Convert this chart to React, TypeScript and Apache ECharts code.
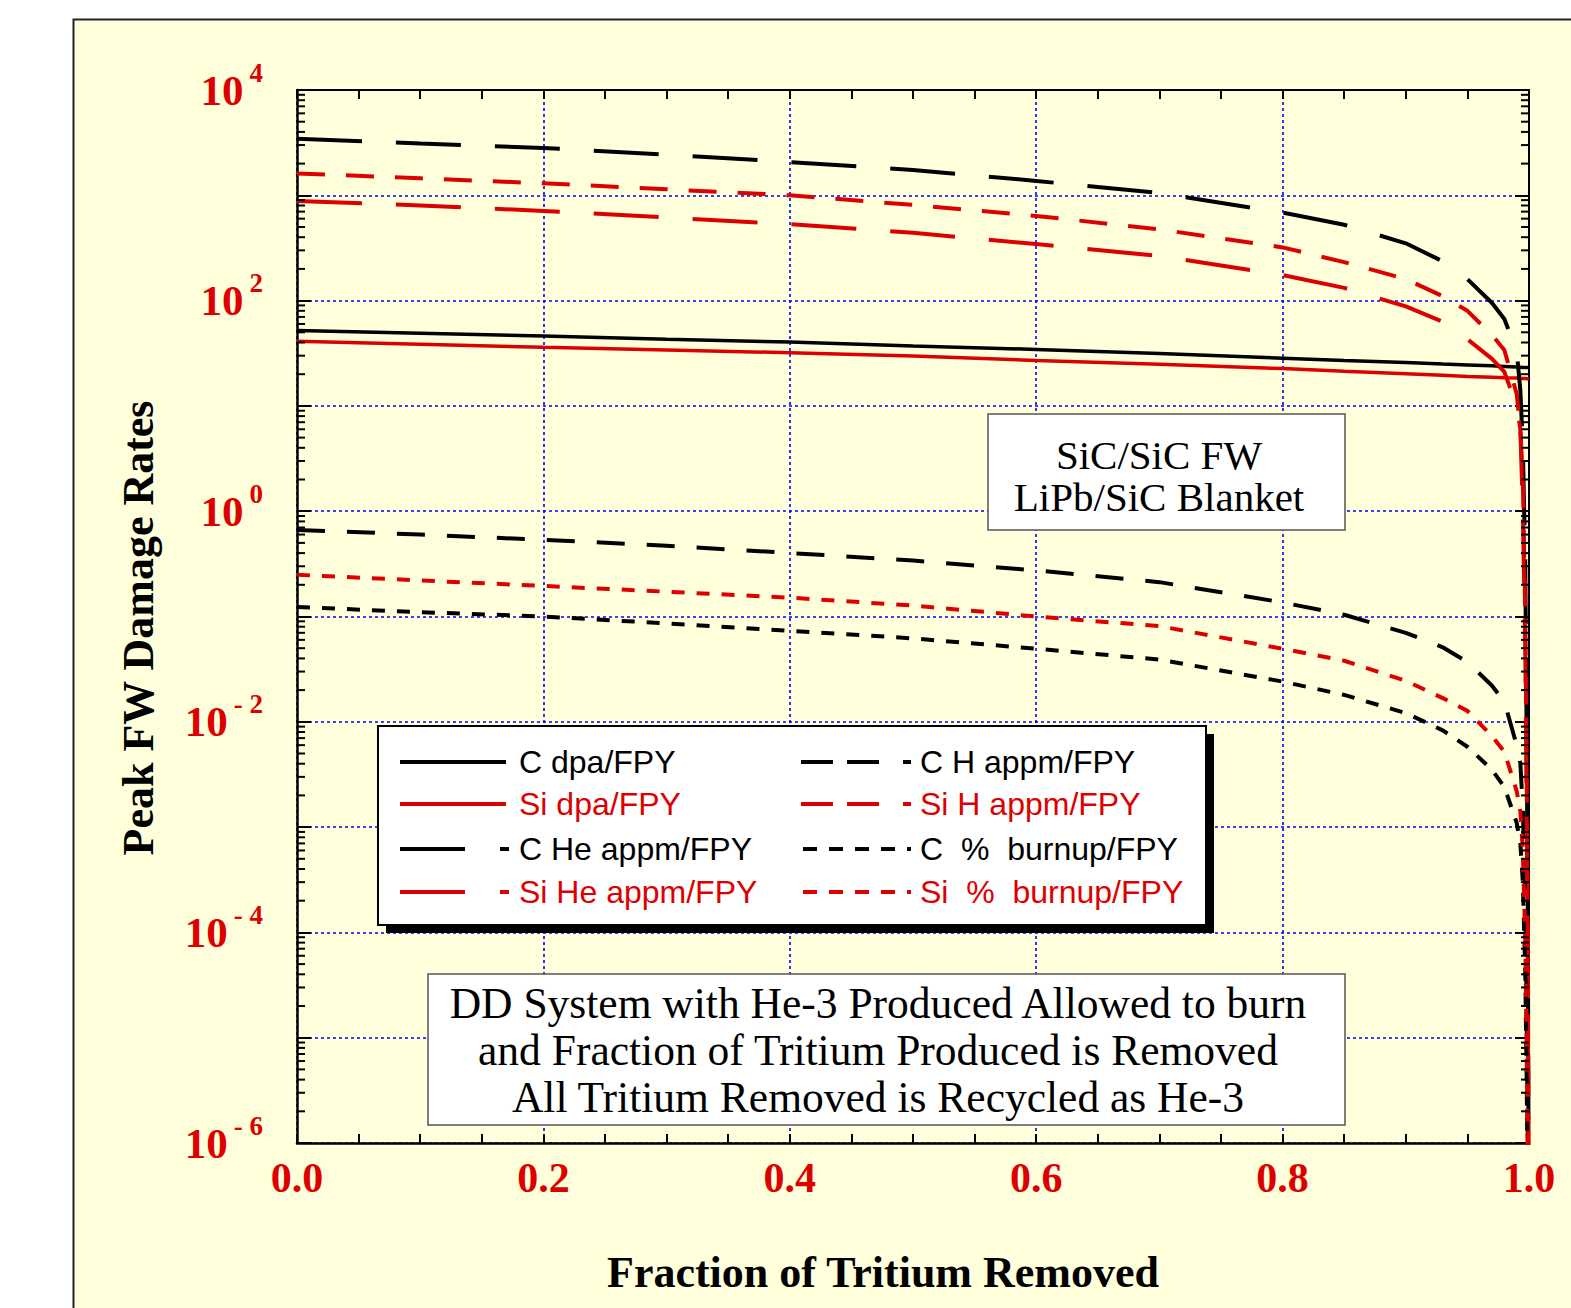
import React, { useEffect, useRef } from 'react';
import * as echarts from 'echarts';

// ---------------- data ----------------
const fractions = [0, 0.1, 0.2, 0.3, 0.4, 0.5, 0.6, 0.7, 0.8, 0.85, 0.9, 0.93, 0.95, 0.97, 0.98, 0.99, 0.993, 0.995, 0.997, 0.998, 0.999, 0.9995, 0.9999];

const cDpa = [52, 49, 46, 43, 40.4, 37, 34.4, 31.5, 28.4, 27, 25.8, 25, 24.5, 24, 23.7, 23.4, 23.3, 23.2, 23.2, 23.1, 23.1, 23, 23];
const siDpa = [41, 38.5, 36, 34, 32, 29.7, 27, 24.8, 22.6, 21.3, 20.2, 19.5, 19, 18.7, 18.5, 18.4, 18.3, 18.2, 18.2, 18.1, 18.1, 18, 18];
const cH = [3440, 3100, 2820, 2430, 2070, 1740, 1370, 1050, 685, 525, 350, 236, 160, 95, 67, 33, 14, 4, 0.3, 0.01, 2e-4, 3e-6, 1e-8];
const siH = [1615, 1450, 1300, 1140, 1000, 810, 637, 475, 320, 232, 160, 110, 80, 47, 34, 13, 6, 2, 0.1, 0.005, 1e-4, 2e-6, 1e-8];
const cHe = [0.664, 0.6, 0.535, 0.47, 0.401, 0.34, 0.274, 0.212, 0.136, 0.104, 0.07, 0.051, 0.037, 0.022, 0.0155, 0.006, 0.004, 0.0015, 2e-4, 2e-5, 1e-6, 1e-7, 1e-8];
const siHe = [884, 800, 711, 615, 532, 440, 344, 265, 175, 132, 88, 63, 43, 28, 21, 10, 6, 1, 0.05, 0.002, 5e-5, 1e-6, 1e-8];
const cBurn = [0.123, 0.11, 0.1, 0.086, 0.073, 0.062, 0.0494, 0.039, 0.0241, 0.018, 0.0121, 0.0083, 0.0058, 0.0035, 0.0024, 0.0011, 7e-4, 3e-4, 4e-5, 5e-6, 4e-7, 6e-8, 1e-8];
const siBurn = [0.249, 0.22, 0.195, 0.172, 0.151, 0.127, 0.1, 0.081, 0.0494, 0.038, 0.0245, 0.0168, 0.0127, 0.0073, 0.0052, 0.0022, 0.0014, 6e-4, 8e-5, 1e-5, 6e-7, 1e-7, 1e-8];

const yMin = 1e-6;
const yMax = 1e4;
const decades = [-6, -5, -4, -3, -2, -1, 0, 1, 2, 3];
const minorMultipliers = [2, 3, 4, 5, 6, 7, 8, 9];

const legendLeft = ['C dpa/FPY', 'Si dpa/FPY', 'C He appm/FPY', 'Si He appm/FPY'];
const legendRight = ['C H appm/FPY', 'Si H appm/FPY', 'C  %  burnup/FPY', 'Si  %  burnup/FPY'];
const box1Text = 'SiC/SiC FW\nLiPb/SiC Blanket';
const box2Text = 'DD System with He-3 Produced Allowed to burn\nand Fraction of Tritium Produced is Removed\nAll Tritium Removed is Recycled as He-3';
const xTitle = 'Fraction of Tritium Removed';
const yTitle = 'Peak FW Damage Rates';

// ---------------- styles ----------------
const RED = '#dd0000';
const BLACK = '#000000';
const BLUE = '#0000ff';
const BG = '#ffffdc';
const SERIF = '"Liberation Serif", "Times New Roman", serif';
const SANS = '"Liberation Sans", Arial, sans-serif';

const pairs = (ys: number[]) => fractions.map((x, i) => [x, ys[i]]);

export default function App() {
  const ref = useRef<HTMLDivElement>(null);

  useEffect(() => {
    const chart = echarts.init(ref.current!, null, { renderer: 'svg' });

    const minorData: number[][] = [];
    decades.forEach((d) => minorMultipliers.forEach((k) => minorData.push([0, k * Math.pow(10, d)])));

    const lineSeries = (name: string, ys: number[], color: string, dash: any, width: number) => ({
      type: 'line',
      name,
      data: pairs(ys),
      symbol: 'none',
      silent: true,
      clip: true,
      z: 3,
      lineStyle: { color, width, type: dash, cap: 'butt' },
      emphasis: { disabled: true },
    });

    const splitStyle = { show: true, lineStyle: { color: BLUE, width: 1.6, type: [3, 3] } };

    const logAxisBase = {
      type: 'log',
      logBase: 10,
      min: yMin,
      max: yMax,
      interval: 1,
    };

    const gl = (x1: number, y1: number, x2: number, y2: number, color: string, dash?: number[]) => ({
      type: 'line',
      z: 60,
      shape: { x1, y1, x2, y2 },
      style: { stroke: color, lineWidth: 4, lineDash: dash || null },
    });
    const gt = (x: number, y: number, text: string, color: string) => ({
      type: 'text',
      z: 61,
      x,
      y,
      style: { text, fill: color, fontSize: 32, fontFamily: SANS, align: 'left', verticalAlign: 'middle' },
    });

    const rows = [762, 804, 849, 892];

    const option: any = {
      animation: false,
      backgroundColor: 'transparent',
      grid: { left: 297, top: 90, width: 1232, height: 1053, outerBoundsMode: 'none', containLabel: false },
      xAxis: [
        {
          type: 'value',
          min: 0,
          max: 1,
          interval: 0.2,
          position: 'bottom',
          axisLine: { show: true, onZero: false, lineStyle: { color: BLACK, width: 2.5 } },
          axisTick: { show: true, inside: true, length: 9, lineStyle: { color: BLACK, width: 2 } },
          minorTick: { show: true, splitNumber: 4, length: 9, lineStyle: { color: BLACK, width: 2 } },
          axisLabel: {
            margin: 14,
            formatter: (v: number) => v.toFixed(1),
            color: RED,
            fontFamily: SERIF,
            fontWeight: 'bold',
            fontSize: 42,
          },
          splitLine: splitStyle,
        },
        {
          type: 'value',
          min: 0,
          max: 1,
          interval: 0.2,
          position: 'top',
          axisLine: { show: true, onZero: false, lineStyle: { color: BLACK, width: 2 } },
          axisTick: { show: true, inside: true, length: 9, lineStyle: { color: BLACK, width: 2 } },
          minorTick: { show: true, splitNumber: 4, length: 9, lineStyle: { color: BLACK, width: 2 } },
          axisLabel: { show: false },
          splitLine: { show: false },
        },
      ],
      yAxis: [
        {
          ...logAxisBase,
          position: 'left',
          axisLine: { show: true, onZero: false, lineStyle: { color: BLACK, width: 2.5 } },
          axisTick: { show: true, inside: true, length: 14, lineStyle: { color: BLACK, width: 2 } },
          axisLabel: {
            margin: 34,
            formatter: (v: number) => {
              const e = Math.round(Math.log10(v));
              if (e % 2 !== 0) return '';
              return `{b|10}{s|${e < 0 ? '- ' + -e : e}}`;
            },
            rich: {
              b: { fontFamily: SERIF, fontWeight: 'bold', fontSize: 43, color: RED, lineHeight: 62 },
              s: { fontFamily: SERIF, fontWeight: 'bold', fontSize: 27, color: RED, verticalAlign: 'top', lineHeight: 30, padding: [0, 0, 0, 6] },
            },
          },
          splitLine: splitStyle,
        },
        {
          ...logAxisBase,
          position: 'right',
          axisLine: { show: true, onZero: false, lineStyle: { color: BLACK, width: 2 } },
          axisTick: { show: true, inside: true, length: 14, lineStyle: { color: BLACK, width: 2 } },
          axisLabel: { show: false },
          splitLine: { show: false },
        },
      ],
      series: [
        lineSeries('C dpa/FPY', cDpa, BLACK, 'solid', 3.5),
        lineSeries('Si dpa/FPY', siDpa, RED, 'solid', 3.5),
        lineSeries('C H appm/FPY', cH, BLACK, [65, 34], 4),
        lineSeries('Si H appm/FPY', siH, RED, [28, 21], 4),
        lineSeries('C He appm/FPY', cHe, BLACK, [28, 22], 4),
        lineSeries('Si He appm/FPY', siHe, RED, [65, 34], 4),
        lineSeries('C % burnup/FPY', cBurn, BLACK, [13, 12], 4),
        lineSeries('Si % burnup/FPY', siBurn, RED, [13, 12], 4),
        {
          type: 'custom',
          name: 'minorTicks',
          silent: true,
          clip: false,
          z: 4,
          data: minorData,
          encode: { x: 0, y: 1 },
          renderItem: (params: any, api: any) => {
            const v = api.value(1);
            const pl = api.coord([0, v]);
            const pr = api.coord([1, v]);
            return {
              type: 'group',
              children: [
                { type: 'line', shape: { x1: pl[0], y1: pl[1], x2: pl[0] + 8, y2: pl[1] }, style: { stroke: BLACK, lineWidth: 2 } },
                { type: 'line', shape: { x1: pr[0] - 8, y1: pr[1], x2: pr[0], y2: pr[1] }, style: { stroke: BLACK, lineWidth: 2 } },
              ],
            };
          },
        },
      ],
      graphic: [
        {
          type: 'rect',
          z: -10,
          silent: true,
          shape: { x: 73.5, y: 19.5, width: 1600, height: 1400 },
          style: { fill: BG, stroke: '#222', lineWidth: 2 },
        },
        // axis titles
        {
          type: 'text',
          z: 10,
          x: 883,
          y: 1272,
          style: { text: xTitle, fill: BLACK, fontFamily: SERIF, fontWeight: 'bold', fontSize: 44, align: 'center', verticalAlign: 'middle' },
        },
        {
          type: 'text',
          z: 10,
          x: 138,
          y: 628,
          rotation: Math.PI / 2,
          style: { text: yTitle, fill: BLACK, fontFamily: SERIF, fontWeight: 'bold', fontSize: 44, align: 'center', verticalAlign: 'middle' },
        },
        // text box 1
        {
          type: 'rect',
          z: 50,
          shape: { x: 988, y: 414, width: 357, height: 116 },
          style: { fill: '#ffffff', stroke: '#555', lineWidth: 1.5 },
        },
        {
          type: 'text',
          z: 51,
          x: 1159,
          y: 476,
          style: { text: box1Text, fill: BLACK, fontFamily: SERIF, fontSize: 41, lineHeight: 42, align: 'center', verticalAlign: 'middle' },
        },
        // text box 2
        {
          type: 'rect',
          z: 50,
          shape: { x: 428, y: 974, width: 917, height: 151 },
          style: { fill: '#ffffff', stroke: '#555', lineWidth: 1.5 },
        },
        {
          type: 'text',
          z: 51,
          x: 878,
          y: 1050,
          style: { text: box2Text, fill: BLACK, fontFamily: SERIF, fontSize: 43.5, lineHeight: 47, align: 'center', verticalAlign: 'middle' },
        },
        // legend
        { type: 'rect', z: 55, shape: { x: 386, y: 734, width: 828, height: 199 }, style: { fill: BLACK } },
        { type: 'rect', z: 56, shape: { x: 378, y: 726, width: 828, height: 199 }, style: { fill: '#ffffff', stroke: BLACK, lineWidth: 2 } },
        gl(400, rows[0], 506, rows[0], BLACK),
        gl(400, rows[1], 506, rows[1], RED),
        gl(400, rows[2], 465, rows[2], BLACK),
        gl(500, rows[2], 509, rows[2], BLACK),
        gl(400, rows[3], 465, rows[3], RED),
        gl(500, rows[3], 509, rows[3], RED),
        gl(801, rows[0], 833, rows[0], BLACK),
        gl(847, rows[0], 879, rows[0], BLACK),
        gl(903, rows[0], 911, rows[0], BLACK),
        gl(801, rows[1], 833, rows[1], RED),
        gl(847, rows[1], 879, rows[1], RED),
        gl(903, rows[1], 911, rows[1], RED),
        gl(803, rows[2], 911, rows[2], BLACK, [14, 12]),
        gl(803, rows[3], 911, rows[3], RED, [14, 12]),
        gt(519, rows[0], legendLeft[0], BLACK),
        gt(519, rows[1], legendLeft[1], RED),
        gt(519, rows[2], legendLeft[2], BLACK),
        gt(519, rows[3], legendLeft[3], RED),
        gt(920, rows[0], legendRight[0], BLACK),
        gt(920, rows[1], legendRight[1], RED),
        gt(920, rows[2], legendRight[2], BLACK),
        gt(920, rows[3], legendRight[3], RED),
      ],
    };

    chart.setOption(option);
    return () => chart.dispose();
  }, []);

  return (
    <div
      ref={ref}
      style={{ position: 'absolute', left: 0, top: 0, width: 1571, height: 1308, background: '#ffffff' }}
    />
  );
}
